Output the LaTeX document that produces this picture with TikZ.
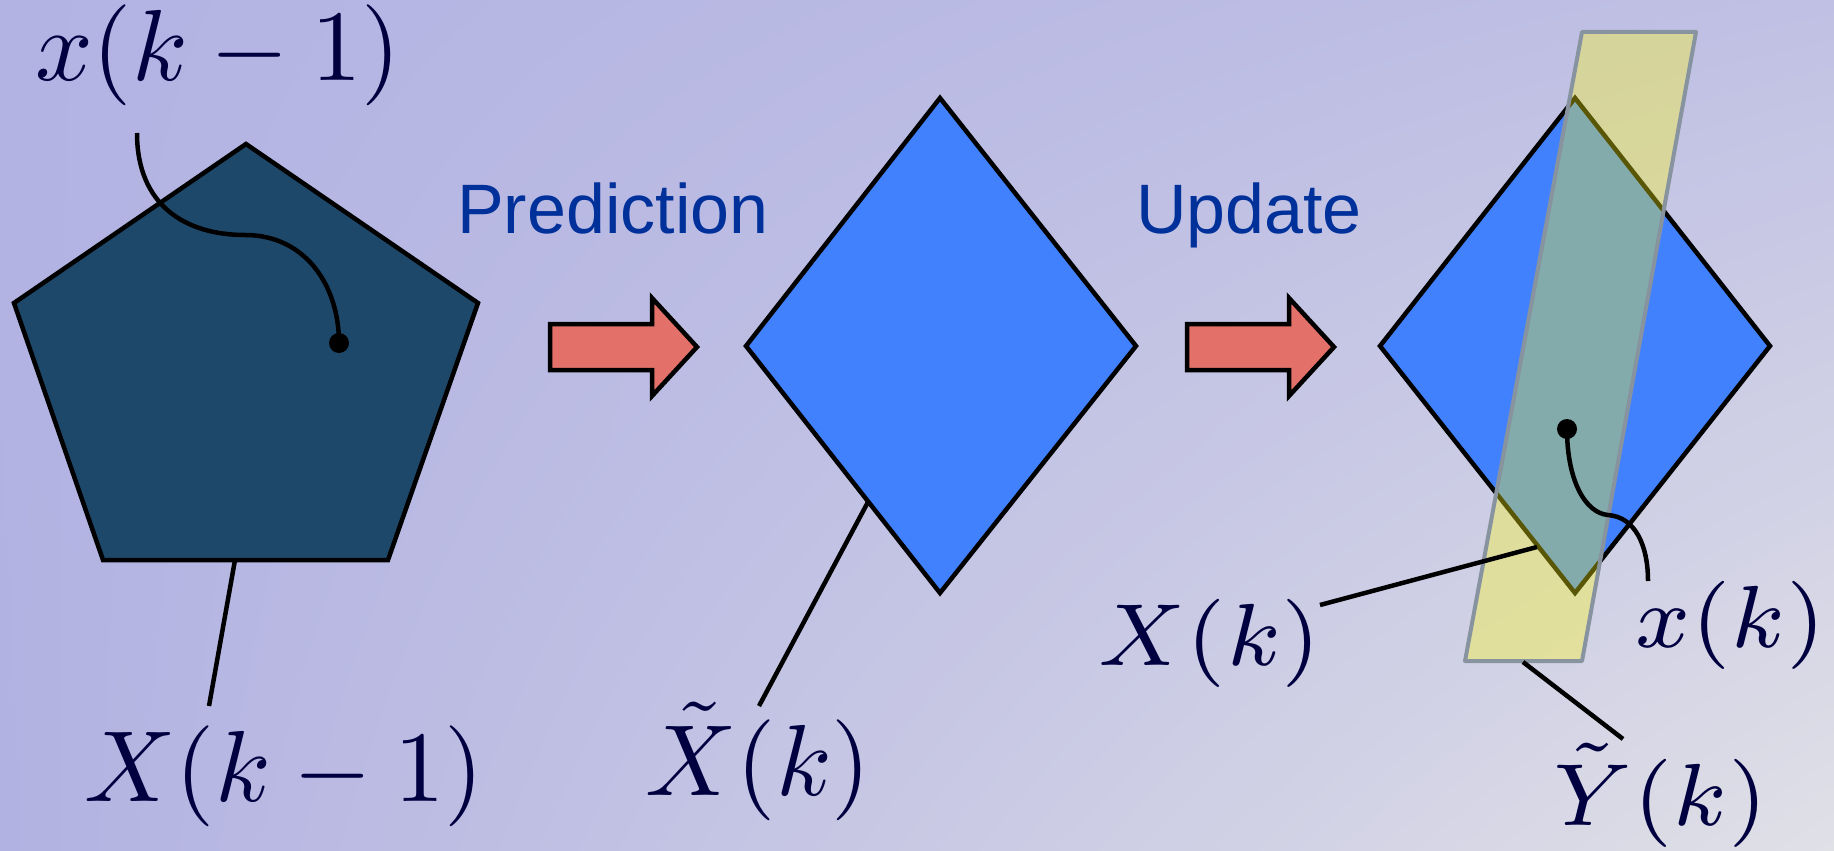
\documentclass[tikz,border=0pt]{standalone}
\usepackage{fontspec}
\usetikzlibrary{shadings}
\newfontfamily\headfont{Liberation Sans}
\newcommand\biglbl[1]{\scalebox{10.1}{$#1$}}
\newcommand\smlbl[1]{\scalebox{12.6}{$\scriptstyle #1$}}
\definecolor{navy}{RGB}{0,0,64}
\definecolor{headblue}{RGB}{0,48,154}
\definecolor{pentfill}{RGB}{30,72,106}
\definecolor{diafill}{RGB}{65,129,253}
\definecolor{arrfill}{RGB}{227,113,106}
\definecolor{bandfill}{RGB}{255,250,20}
\definecolor{bandedge}{RGB}{136,147,160}
\definecolor{bgUL}{RGB}{178,179,227}
\definecolor{bgUR}{RGB}{192,192,228}
\definecolor{bgLL}{RGB}{178,178,226}
\definecolor{bgLR}{RGB}{224,224,231}
\begin{document}
\begin{tikzpicture}[x=1pt,y=-1pt,
  outline/.style={draw=black,line width=4.5pt,line join=miter},
  conn/.style={draw=black,line width=4.5pt},
  lbl/.style={inner sep=0pt,anchor=base west,text=navy},
  head/.style={inner sep=0pt,anchor=base west,text=headblue,font=\headfont\fontsize{70}{80}\selectfont},
  blockarrow/.style={outline,fill=arrfill},
  band/.style={draw=bandedge,line width=4pt,line join=round,fill=bandfill,fill opacity=0.35},
  dot/.style={circle,fill=black,inner sep=0pt,minimum size=20pt}]
% background
\shade[upper left=bgUL,upper right=bgUR,lower left=bgLL,lower right=bgLR]
  (0,0) rectangle (1834,851);
\useasboundingbox (0,0) rectangle (1834,851);

% pentagon
\draw[outline,fill=pentfill] (246,144) -- (478,303) -- (388,560) -- (103,560) -- (14,303) -- cycle;
\coordinate (pentbot) at (235,560);
\node[dot] (d1) at (339,343) {};
\node[lbl] (xkm1) at (35,81) {\biglbl{x(k-1)}};
\coordinate (c1start) at (137,133);
\draw[conn] (c1start) .. controls (137,205) and (185,235) .. (245,235)
  .. controls (305,235) and (339,285) .. (d1.center);
\node[lbl] (Xkm1) at (84,801) {\biglbl{X(k-1)}};
\coordinate (l1end) at (209,706);
\draw[conn] (pentbot) -- (l1end);

% arrows
\foreach \dx/\nm in {0/a1,637/a2}{
  \draw[blockarrow,shift={(\dx,0)}] (550,324) -- (652,324) -- (652,298) -- (697,347)
    -- (652,396) -- (652,370) -- (550,370) -- cycle;
}
\node[head] (pred) at (457,233) {Prediction};
\node[head] (upd) at (1136,233) {Update};

% middle diamond
\draw[outline,fill=diafill] (940,98) -- (1136,346) -- (940,593) -- (746,346) -- cycle;
\coordinate (dia1edge) at (868,502);
\node[lbl] (Xtk) at (645,795) {\biglbl{\tilde{X}(k)}};
\coordinate (l2end) at (759,706);
\draw[conn] (dia1edge) -- (l2end);

% right diamond
\draw[outline,fill=diafill] (1575,98) -- (1770,346) -- (1575,593) -- (1380,346) -- cycle;
% measurement band
\filldraw[band] (1582,32) -- (1696,32) -- (1582,661) -- (1465,661) -- cycle;

\node[lbl] (Xk) at (1097,665) {\smlbl{X(k)}};
\coordinate (dia2edge) at (1537,547);
\coordinate (l3end) at (1320,605);
\draw[conn] (l3end) -- (dia2edge);

\node[dot] (d2) at (1567,429) {};
\node[lbl] (xk) at (1634,647) {\smlbl{x(k)}};
\coordinate (c2end) at (1648,581);
\draw[conn] (d2.center) .. controls (1567,480) and (1585,513) .. (1608,515)
  .. controls (1635,517) and (1648,545) .. (c2end);

\node[lbl] (Ytk) at (1552,825) {\smlbl{\tilde{Y}(k)}};
\coordinate (bandbot) at (1523,662);
\coordinate (l4end) at (1623,739);
\draw[conn] (bandbot) -- (l4end);
\end{tikzpicture}
\end{document}
